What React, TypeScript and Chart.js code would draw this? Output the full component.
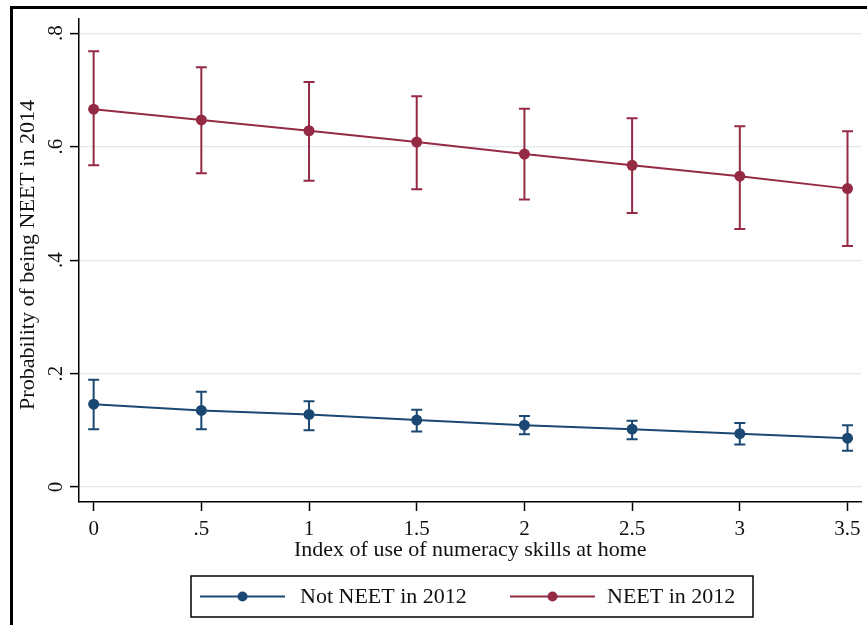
import React, { useEffect, useRef } from 'react';
import { Chart, registerables } from 'chart.js';

Chart.register(...registerables);

const xValues = [0, 0.5, 1, 1.5, 2, 2.5, 3, 3.5];
const notNeetMean = [0.146, 0.135, 0.128, 0.118, 0.109, 0.102, 0.094, 0.086];
const notNeetLow = [0.102, 0.102, 0.1, 0.098, 0.093, 0.084, 0.075, 0.064];
const notNeetHigh = [0.189, 0.168, 0.151, 0.136, 0.125, 0.117, 0.113, 0.109];
const neetMean = [0.666, 0.647, 0.628, 0.608, 0.587, 0.567, 0.548, 0.526];
const neetLow = [0.567, 0.553, 0.54, 0.525, 0.507, 0.483, 0.455, 0.425];
const neetHigh = [0.768, 0.74, 0.714, 0.689, 0.667, 0.65, 0.636, 0.627];

const yTicks = [0, 0.2, 0.4, 0.6, 0.8];
const yTickLabels = ['0', '.2', '.4', '.6', '.8'];
const xTicks = [0, 0.5, 1, 1.5, 2, 2.5, 3, 3.5];
const xTickLabels = ['0', '.5', '1', '1.5', '2', '2.5', '3', '3.5'];

const seriesNames = ['Not NEET in 2012', 'NEET in 2012'];
const xTitle = 'Index of use of numeracy skills at home';
const yTitle = 'Probability of being NEET in 2014';

const NAVY = '#1b4872';
const MAROON = '#952a45';
const FONT = "'Liberation Serif', 'Times New Roman', serif";
const TEXT = '#111111';

const errorBarPlugin = {
  id: 'errorBars',
  beforeDatasetsDraw(chart: any) {
    const ctx = chart.ctx;
    const yScale = chart.scales.y;
    chart.data.datasets.forEach((ds: any, di: number) => {
      const meta = chart.getDatasetMeta(di);
      ctx.save();
      ctx.strokeStyle = ds.borderColor;
      ctx.lineWidth = 2;
      meta.data.forEach((pt: any, i: number) => {
        const x = pt.x;
        const yl = yScale.getPixelForValue(ds.errLow[i]);
        const yh = yScale.getPixelForValue(ds.errHigh[i]);
        ctx.beginPath();
        ctx.moveTo(x, yl);
        ctx.lineTo(x, yh);
        ctx.moveTo(x - 5.5, yl);
        ctx.lineTo(x + 5.5, yl);
        ctx.moveTo(x - 5.5, yh);
        ctx.lineTo(x + 5.5, yh);
        ctx.stroke();
      });
      ctx.restore();
    });
  },
};

const decorPlugin = {
  id: 'decor',
  afterDraw(chart: any) {
    const ctx = chart.ctx;
    const ca = chart.chartArea;
    const yScale = chart.scales.y;
    ctx.save();
    // outer frame
    ctx.strokeStyle = '#000';
    ctx.lineWidth = 3;
    ctx.beginPath();
    ctx.moveTo(11.5, 625);
    ctx.lineTo(11.5, 7.5);
    ctx.lineTo(867, 7.5);
    ctx.stroke();

    // y tick labels rotated
    ctx.fillStyle = TEXT;
    ctx.font = `21px ${FONT}`;
    ctx.textAlign = 'center';
    ctx.textBaseline = 'middle';
    yTicks.forEach((v, i) => {
      const y = yScale.getPixelForValue(v);
      ctx.save();
      ctx.translate(56, y);
      ctx.rotate(-Math.PI / 2);
      ctx.fillText(yTickLabels[i], 0, 0);
      ctx.restore();
    });

    // y title
    ctx.font = `22px ${FONT}`;
    ctx.save();
    ctx.translate(28, 255);
    ctx.rotate(-Math.PI / 2);
    ctx.fillText(yTitle, 0, 0);
    ctx.restore();

    // x title
    ctx.fillText(xTitle, (ca.left + ca.right) / 2, 550);

    // legend
    const bx = 191, by = 576, bw = 562, bh = 41;
    ctx.strokeStyle = '#000';
    ctx.lineWidth = 1.5;
    ctx.strokeRect(bx, by, bw, bh);
    const ly = by + bh / 2;
    const items = [
      { x0: 200, x1: 285, text: 300, color: NAVY, name: seriesNames[0] },
      { x0: 510, x1: 595, text: 607, color: MAROON, name: seriesNames[1] },
    ];
    items.forEach((it) => {
      ctx.strokeStyle = it.color;
      ctx.lineWidth = 2;
      ctx.beginPath();
      ctx.moveTo(it.x0, ly);
      ctx.lineTo(it.x1, ly);
      ctx.stroke();
      ctx.fillStyle = it.color;
      ctx.beginPath();
      ctx.arc((it.x0 + it.x1) / 2, ly, 5, 0, Math.PI * 2);
      ctx.fill();
      ctx.fillStyle = TEXT;
      ctx.textAlign = 'left';
      ctx.fillText(it.name, it.text, ly + 1);
    });
    ctx.restore();
  },
};

export default function App() {
  const ref = useRef<HTMLCanvasElement | null>(null);

  useEffect(() => {
    if (!ref.current) return;
    const chart = new Chart(ref.current, {
      type: 'line',
      data: {
        datasets: [
          {
            label: seriesNames[0],
            data: xValues.map((x, i) => ({ x, y: notNeetMean[i] })),
            borderColor: NAVY,
            backgroundColor: NAVY,
            borderWidth: 2,
            pointRadius: 5.5,
            pointBorderWidth: 0,
            pointBackgroundColor: NAVY,
            tension: 0,
            errLow: notNeetLow,
            errHigh: notNeetHigh,
          } as any,
          {
            label: seriesNames[1],
            data: xValues.map((x, i) => ({ x, y: neetMean[i] })),
            borderColor: MAROON,
            backgroundColor: MAROON,
            borderWidth: 2,
            pointRadius: 5.5,
            pointBorderWidth: 0,
            pointBackgroundColor: MAROON,
            tension: 0,
            errLow: neetLow,
            errHigh: neetHigh,
          } as any,
        ],
      },
      options: {
        responsive: false,
        animation: false,
        layout: { padding: { left: 0, top: 19, right: 1, bottom: 0 } },
        plugins: {
          legend: { display: false },
          tooltip: { enabled: false },
        },
        scales: {
          x: {
            type: 'linear',
            min: -0.068,
            max: 3.565,
            afterBuildTicks: (s: any) => {
              s.ticks = xTicks.map((v) => ({ value: v }));
            },
            afterFit: (s: any) => {
              s.height = 123;
            },
            grid: {
              display: true,
              drawOnChartArea: false,
              drawTicks: true,
              tickLength: 9,
              tickColor: '#000',
              tickWidth: 1.5,
            },
            border: { display: true, color: '#000', width: 1.5 },
            ticks: {
              autoSkip: false,
              maxRotation: 0,
              minRotation: 0,
              padding: 6,
              color: TEXT,
              font: { family: FONT, size: 21 },
              callback: (v: any) => {
                const idx = xTicks.indexOf(Number(v));
                return idx >= 0 ? xTickLabels[idx] : '';
              },
            },
          },
          y: {
            type: 'linear',
            min: -0.0264,
            max: 0.825,
            afterBuildTicks: (s: any) => {
              s.ticks = yTicks.map((v) => ({ value: v }));
            },
            afterFit: (s: any) => {
              s.width = 79;
            },
            grid: {
              display: true,
              color: '#e4eaec',
              lineWidth: 1.2,
              drawTicks: true,
              tickLength: 9,
              tickColor: '#000',
              tickWidth: 1.5,
            },
            border: { display: true, color: '#000', width: 1.5 },
            ticks: { display: false },
          },
        },
      } as any,
      plugins: [errorBarPlugin, decorPlugin],
    });
    return () => chart.destroy();
  }, []);

  return (
    <div style={{ position: 'absolute', left: 0, top: 0, width: 867, height: 625, background: '#fff' }}>
      <canvas ref={ref} width={867} height={625} style={{ display: 'block', width: 867, height: 625 }} />
    </div>
  );
}
